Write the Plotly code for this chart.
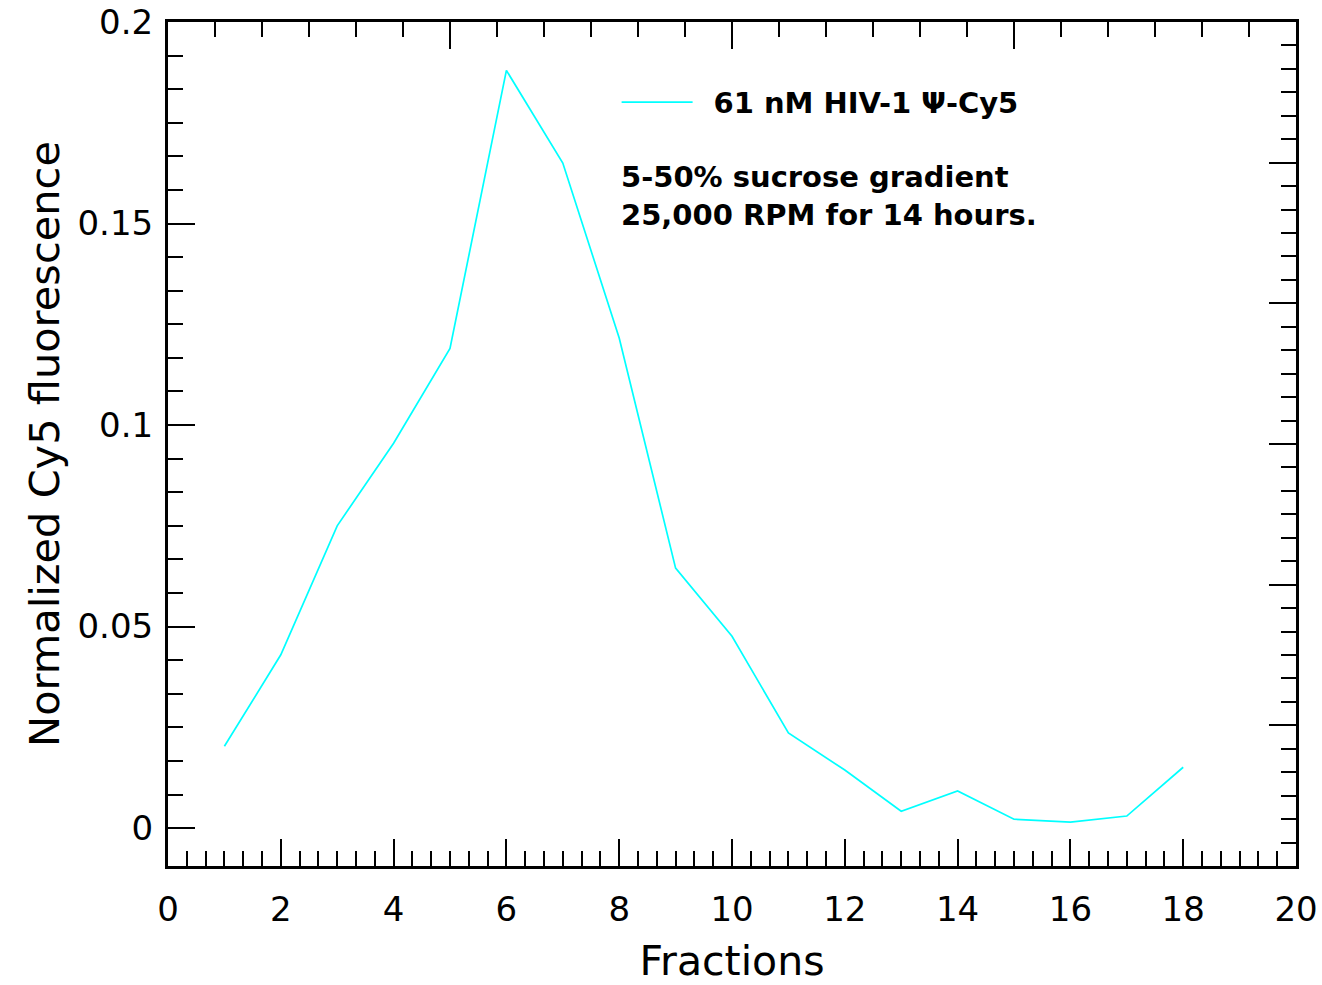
import plotly.graph_objects as go

# Data
fractions = [1, 2, 3, 4, 5, 6, 7, 8, 9, 10, 11, 12, 13, 14, 15, 16, 17, 18]
cy5 = [0.0203, 0.043, 0.075, 0.0955, 0.119, 0.188, 0.1650, 0.1216, 0.0645, 0.0476,
       0.0236, 0.0144, 0.0042, 0.0092, 0.0022, 0.0015, 0.0030, 0.0151]
series_name = "61 nM HIV-1 Ψ-Cy5"
note_lines = ["5-50% sucrose gradient", "25,000 RPM for 14 hours."]
x_tickvals = [0, 2, 4, 6, 8, 10, 12, 14, 16, 18, 20]
y_tickvals = [0, 0.05, 0.1, 0.15, 0.2]
y_ticktext = ["0", "0.05", "0.1", "0.15", "0.2"]

FONT = "DejaVu Sans"

y_minor = [i * 0.05 / 6 for i in range(0, 25)]

fig = go.Figure()
fig.add_trace(go.Scatter(
    x=fractions, y=cy5, mode="lines", name="&nbsp;&#8201;" + series_name,
    line=dict(color="#00FFFF", width=1.7),
))
# invisible trace to activate the mirror (top/right) axes
fig.add_trace(go.Scatter(x=[None], y=[None], xaxis="x2", yaxis="y2",
                         showlegend=False, hoverinfo="skip"))

tick_common = dict(ticks="inside", tickcolor="black", tickwidth=2,
                   showline=True, linecolor="black", linewidth=3,
                   showgrid=False, zeroline=False, automargin=False)

fig.update_layout(
    width=1322, height=985,
    margin=dict(l=168, r=26, t=22, b=119),
    paper_bgcolor="white", plot_bgcolor="white",
    font=dict(family=FONT, color="black"),
    xaxis=dict(range=[0, 20], tickvals=x_tickvals, ticklen=27,
               minor=dict(dtick=1/3, tick0=0, ticks="inside", ticklen=15,
                          tickwidth=2, tickcolor="black"),
               tickfont=dict(size=34, family=FONT, color="black"),
               title=dict(text="Fractions", font=dict(size=41, family=FONT), standoff=22),
               ticklabelstandoff=11,
               **tick_common),
    yaxis=dict(range=[-0.0094, 0.2], tickvals=y_tickvals, ticktext=y_ticktext, ticklen=27,
               minor=dict(tickvals=y_minor, ticks="inside", ticklen=15,
                          tickwidth=2, tickcolor="black"),
               tickfont=dict(size=34, family=FONT, color="black"),
               title=dict(text="Normalized Cy5 fluorescence", font=dict(size=41.5, family=FONT), standoff=5),
               ticklabelstandoff=5,
               **tick_common),
    xaxis2=dict(overlaying="x", side="top", anchor="y", range=[0, 20], dtick=5, ticklen=27,
                minor=dict(dtick=5/6, tick0=0, ticks="inside", ticklen=15,
                           tickwidth=2, tickcolor="black"),
                showticklabels=False, **tick_common),
    yaxis2=dict(overlaying="y", side="right", anchor="x", range=[0, 6], dtick=1, ticklen=27,
                minor=dict(dtick=1/6, tick0=0, ticks="inside", ticklen=15,
                           tickwidth=2, tickcolor="black"),
                showticklabels=False, **tick_common),
    showlegend=True,
    legend=dict(x=0.3977, y=0.905, xanchor="left", yanchor="middle",
                bgcolor="rgba(0,0,0,0)", itemwidth=71,
                font=dict(size=29, family=FONT, color="black", weight="bold")),
    annotations=[dict(
        text="<br>".join(note_lines), xref="paper", yref="paper",
        x=0.3998, y=0.8385, xanchor="left", yanchor="top", align="left", showarrow=False,
        font=dict(size=29, family=FONT, color="black", weight="bold"),
    )],
)

fig.write_html("out.html")
